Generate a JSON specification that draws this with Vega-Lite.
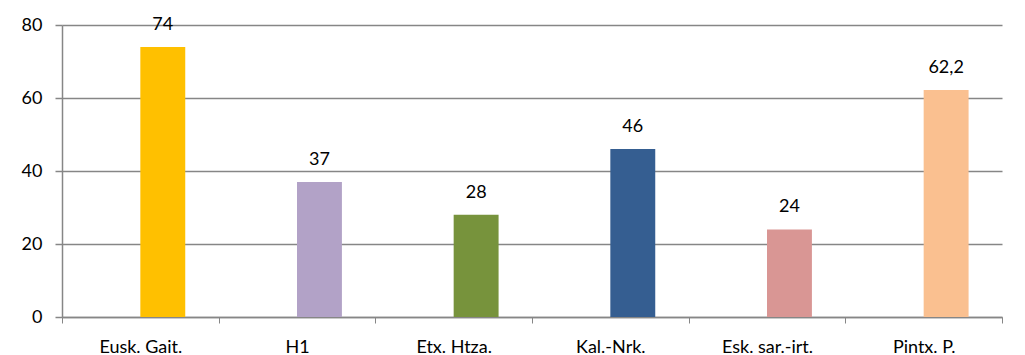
{
  "$schema": "https://vega.github.io/schema/vega-lite/v6.json",
  "width": 940,
  "height": 292,
  "autosize": {"type": "none"},
  "padding": {"left": 62, "top": 25, "right": 23, "bottom": 38},
  "background": "white",
  "config": {
    "view": {"stroke": null},
    "font": "Lato",
    "axis": {"labelFont": "Lato", "labelFontSize": 18, "labelColor": "#000000", "domainColor": "#868686", "tickColor": "#868686", "gridColor": "#868686", "title": null}
  },
  "data": {
    "values": [
      {"cat": "Eusk. Gait.", "value": 74, "label": "74", "s": "b", "color": "#FFC000"},
      {"cat": "H1", "value": 37, "label": "37", "s": "b", "color": "#B2A2C7"},
      {"cat": "Etx. Htza.", "value": 28, "label": "28", "s": "b", "color": "#77933C"},
      {"cat": "Kal.-Nrk.", "value": 46, "label": "46", "s": "b", "color": "#355E91"},
      {"cat": "Esk. sar.-irt.", "value": 24, "label": "24", "s": "b", "color": "#D99694"},
      {"cat": "Pintx. P.", "value": 62.2, "label": "62,2", "s": "b", "color": "#FAC090"}
    ]
  },
  "encoding": {
    "x": {
      "field": "cat", "type": "nominal", "sort": null,
      "scale": {"paddingInner": 0, "paddingOuter": 0},
      "axis": {"labelAngle": 0, "tickBand": "extent", "tickSize": 6, "labelPadding": 15, "grid": false, "domainWidth": 1.5}
    },
    "xOffset": {"field": "s", "type": "nominal", "scale": {"domain": ["a", "b"], "paddingInner": 0, "paddingOuter": 0.744}},
    "y": {
      "field": "value", "type": "quantitative",
      "scale": {"domain": [0, 80], "nice": false},
      "axis": {"values": [0, 20, 40, 60, 80], "grid": true, "gridWidth": 1.5, "tickSize": 7, "labelPadding": 13, "domainWidth": 1.5, "tickWidth": 1.5}
    }
  },
  "layer": [
    {"mark": {"type": "bar"}, "encoding": {"color": {"field": "color", "type": "nominal", "scale": null}}},
    {"mark": {"type": "text", "baseline": "alphabetic", "dy": -17, "fontSize": 18, "font": "Lato", "color": "#000000"}, "encoding": {"text": {"field": "label"}}}
  ]
}
